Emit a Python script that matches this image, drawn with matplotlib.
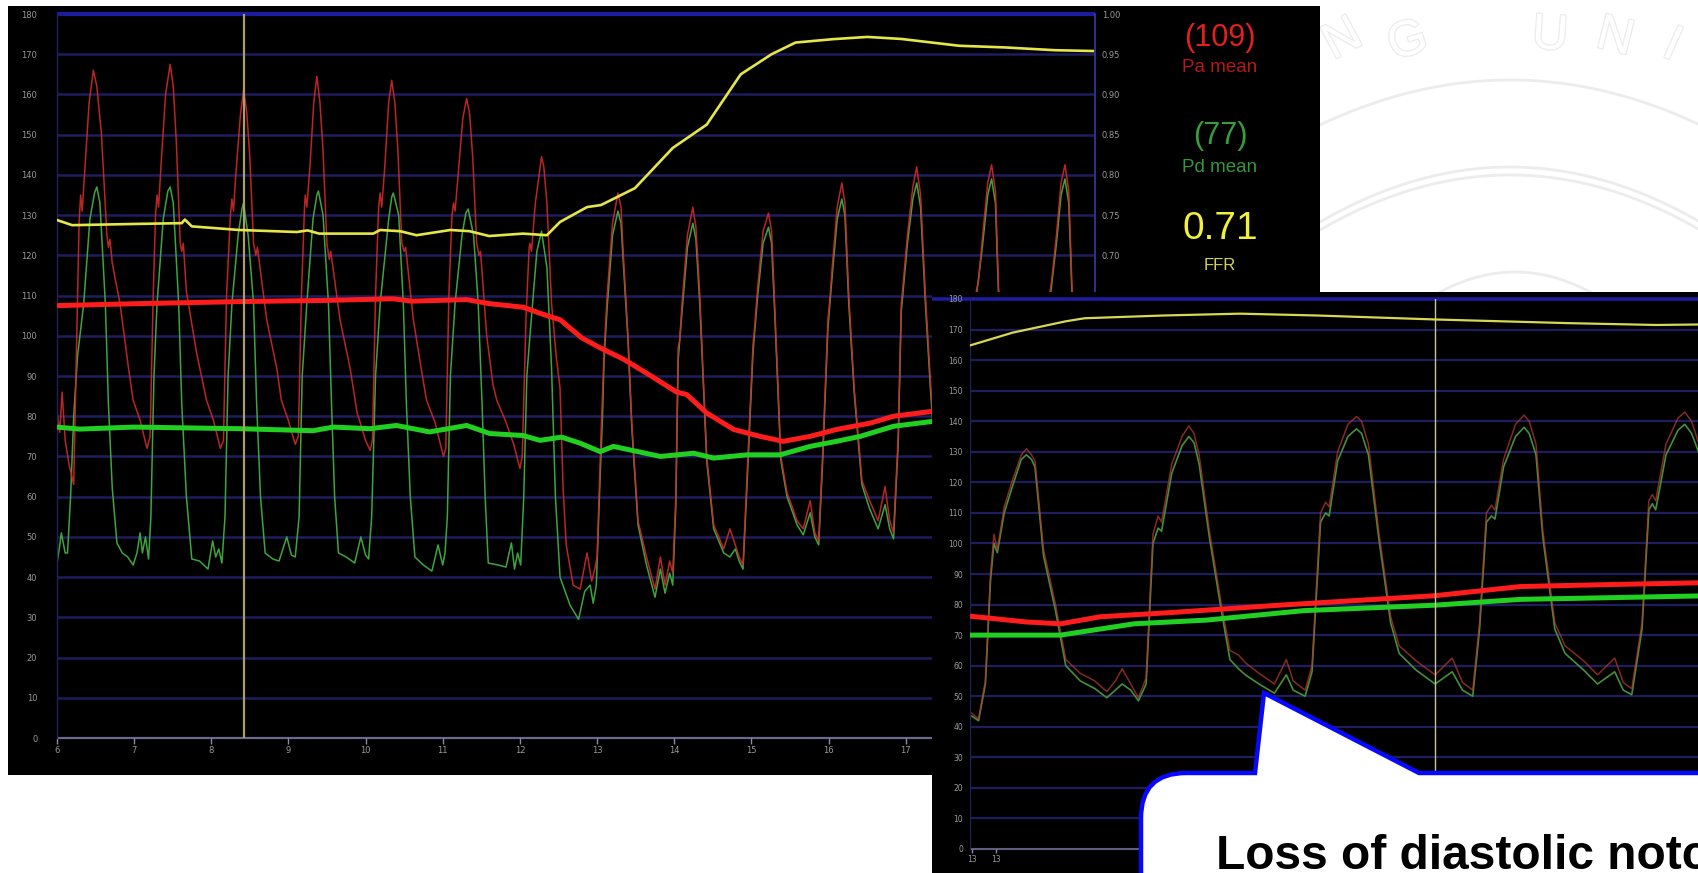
import numpy as np
import matplotlib
matplotlib.use("Agg")
import matplotlib.pyplot as plt
from matplotlib.patches import Rectangle, PathPatch
from matplotlib.path import Path
from matplotlib.lines import Line2D
from matplotlib.transforms import Affine2D
import matplotlib.patheffects as pe

# ---------------- data ----------------
# main tracing: time (s) vs pressure (mmHg)
pa_main = [(6.00, 82), (6.04, 76), (6.07, 86), (6.11, 74), (6.16, 68), (6.22, 63), (6.26, 100), (6.29, 128), (6.31, 135),
           (6.33, 131), (6.36, 140), (6.42, 158), (6.475, 166), (6.52, 162), (6.58, 150), (6.65, 125), (6.67, 122), (6.69, 124),
           (6.72, 118), (6.82, 108), (6.93, 92), (6.99, 84), (7.08, 79), (7.17, 72), (7.21, 75),
           (7.25, 110), (7.28, 130), (7.30, 135), (7.32, 132), (7.35, 142), (7.41, 160), (7.47, 167.5), (7.51, 162), (7.55, 148),
           (7.60, 123), (7.62, 121), (7.64, 123), (7.68, 111), (7.81, 96), (7.94, 84), (8.03, 79), (8.12, 72), (8.16, 74),
           (8.20, 110), (8.25, 130), (8.27, 134), (8.29, 131), (8.32, 140), (8.38, 155), (8.42, 161), (8.46, 156), (8.50, 145),
           (8.55, 123), (8.58, 120), (8.60, 122), (8.72, 104), (8.85, 92), (8.91, 84), (9.00, 79), (9.09, 73), (9.13, 75),
           (9.17, 110), (9.21, 132), (9.22, 135), (9.24, 132), (9.28, 142), (9.33, 158), (9.37, 164.5), (9.41, 158), (9.45, 146),
           (9.50, 123), (9.53, 119), (9.55, 121), (9.67, 104), (9.80, 92), (9.89, 81), (10.00, 74), (10.06, 71.5), (10.09, 74),
           (10.13, 110), (10.17, 132), (10.19, 135.5), (10.21, 132), (10.25, 142), (10.30, 158), (10.34, 163.5), (10.38, 158),
           (10.42, 146), (10.47, 123), (10.50, 121), (10.52, 122), (10.62, 104), (10.72, 92), (10.79, 84), (10.90, 78.5),
           (11.01, 70), (11.04, 72),
           (11.08, 110), (11.12, 130), (11.14, 133), (11.16, 131), (11.20, 140), (11.26, 154), (11.31, 159), (11.35, 155),
           (11.39, 144), (11.44, 123), (11.47, 120), (11.49, 121), (11.57, 100), (11.65, 88), (11.70, 84), (11.81, 79),
           (11.92, 73), (12.00, 67), (12.03, 70),
           (12.08, 105), (12.12, 122), (12.13, 123), (12.15, 121), (12.20, 133), (12.28, 144.5), (12.31, 142), (12.35, 133),
           (12.41, 108), (12.47, 95), (12.52, 87), (12.56, 62), (12.60, 48), (12.69, 38), (12.78, 37), (12.83, 42), (12.87, 46),
           (12.93, 39), (12.97, 42), (13.00, 45),
           (13.05, 75), (13.09, 96), (13.13, 110), (13.20, 128), (13.27, 135.5), (13.31, 132), (13.34, 120), (13.40, 100),
           (13.45, 78), (13.53, 54), (13.64, 45), (13.75, 37), (13.82, 45), (13.88, 38), (13.94, 44), (13.98, 41), (14.02, 60),
           (14.05, 97), (14.07, 99), (14.10, 108), (14.17, 125), (14.24, 132), (14.28, 127), (14.33, 110), (14.42, 70),
           (14.51, 53), (14.64, 47), (14.72, 52), (14.79, 48), (14.84, 45), (14.89, 43), (14.93, 60),
           (15.02, 98), (15.04, 102), (15.08, 112), (15.15, 126), (15.22, 130.5), (15.26, 126), (15.30, 108), (15.38, 70),
           (15.46, 61), (15.59, 54), (15.67, 52), (15.76, 59), (15.82, 51), (15.87, 49), (15.92, 70),
           (15.99, 104), (16.01, 108), (16.05, 118), (16.11, 132), (16.17, 138), (16.21, 133), (16.26, 110), (16.33, 87),
           (16.43, 64), (16.53, 59), (16.64, 54), (16.73, 62.5), (16.79, 54), (16.84, 51), (16.90, 75),
           (16.94, 108), (16.96, 112), (17.02, 125), (17.09, 137), (17.14, 142), (17.19, 135), (17.25, 111), (17.32, 88),
           (17.40, 66), (17.50, 60), (17.60, 56), (17.68, 62), (17.76, 53), (17.82, 70),
           (17.90, 110), (17.94, 113.5), (17.99, 124), (18.06, 138), (18.11, 142.5), (18.16, 136), (18.20, 112), (18.28, 88),
           (18.38, 66), (18.50, 60), (18.60, 56), (18.68, 62), (18.74, 53), (18.80, 70),
           (18.86, 110), (18.89, 114), (18.95, 125), (19.01, 138), (19.06, 142.5), (19.11, 136), (19.15, 113), (19.22, 90),
           (19.32, 68), (19.42, 62)]

pd_main = [(6.00, 43), (6.04, 48), (6.06, 51), (6.09, 48), (6.11, 46), (6.14, 46), (6.18, 60), (6.22, 80), (6.27, 95),
           (6.35, 108), (6.43, 129), (6.49, 135.5), (6.52, 137), (6.56, 133), (6.63, 108), (6.67, 83), (6.72, 62), (6.78, 48.5),
           (6.85, 46), (6.92, 45), (6.99, 43), (7.04, 46), (7.08, 51), (7.11, 46), (7.15, 50), (7.19, 44.5), (7.22, 55),
           (7.26, 90), (7.30, 108), (7.38, 129), (7.44, 136), (7.47, 137), (7.51, 133), (7.58, 108), (7.62, 83), (7.68, 60),
           (7.75, 44.5), (7.85, 44), (7.96, 42), (8.02, 49), (8.06, 45), (8.10, 47), (8.14, 43.5), (8.18, 55),
           (8.22, 90), (8.27, 108), (8.35, 125), (8.40, 131.5), (8.42, 133), (8.48, 125), (8.55, 108), (8.59, 83), (8.64, 60),
           (8.70, 46), (8.80, 44.5), (8.88, 44), (8.98, 50), (9.04, 45.5), (9.09, 45), (9.14, 55),
           (9.18, 90), (9.24, 108), (9.32, 129), (9.37, 135), (9.39, 136), (9.45, 130), (9.52, 108), (9.56, 83), (9.60, 60),
           (9.65, 46), (9.75, 45), (9.86, 43.5), (9.94, 50), (10.00, 45.5), (10.04, 44.5), (10.08, 55),
           (10.13, 90), (10.19, 108), (10.30, 129), (10.34, 134.5), (10.36, 135.5), (10.43, 130), (10.49, 108), (10.53, 83),
           (10.58, 60), (10.64, 45), (10.75, 43), (10.86, 41.5), (10.94, 48), (11.00, 43), (11.03, 46), (11.06, 55),
           (11.10, 90), (11.16, 108), (11.25, 125), (11.30, 130.5), (11.33, 131.5), (11.40, 125), (11.46, 108), (11.51, 83),
           (11.55, 60), (11.59, 43.5), (11.72, 43), (11.82, 42.5), (11.89, 48.5), (11.93, 42), (11.97, 46), (12.01, 43),
           (12.05, 60),
           (12.09, 90), (12.13, 100), (12.22, 121), (12.28, 126), (12.35, 117), (12.41, 92), (12.46, 60), (12.52, 40),
           (12.65, 33), (12.76, 29.5), (12.84, 36.5), (12.91, 38), (12.95, 33.5), (12.99, 38), (13.03, 60),
           (13.07, 80), (13.09, 94), (13.13, 107), (13.20, 125), (13.27, 131), (13.31, 128), (13.34, 118), (13.40, 99),
           (13.45, 77), (13.53, 53), (13.64, 43), (13.75, 35), (13.82, 42), (13.88, 36), (13.94, 41), (13.98, 38), (14.02, 58),
           (14.05, 94), (14.10, 106), (14.17, 122), (14.24, 128), (14.28, 124), (14.33, 108), (14.42, 69), (14.51, 52),
           (14.64, 46), (14.72, 45), (14.79, 47), (14.84, 44), (14.89, 42), (14.93, 58),
           (15.02, 96), (15.08, 110), (15.15, 123), (15.22, 127), (15.26, 123), (15.30, 106), (15.38, 69), (15.46, 60),
           (15.59, 53), (15.67, 50.5), (15.76, 56), (15.82, 50), (15.87, 48), (15.92, 68),
           (15.99, 102), (16.05, 116), (16.11, 129), (16.17, 134), (16.21, 130), (16.26, 108), (16.33, 86), (16.43, 63),
           (16.53, 57), (16.64, 52), (16.73, 58), (16.79, 52), (16.84, 49.5), (16.90, 73),
           (16.94, 106), (17.02, 123), (17.09, 134), (17.14, 138), (17.19, 132), (17.25, 109), (17.32, 86), (17.40, 64),
           (17.50, 58), (17.60, 54), (17.68, 59), (17.76, 51), (17.82, 68),
           (17.90, 108), (17.99, 122), (18.06, 135), (18.11, 139), (18.16, 133), (18.20, 110), (18.28, 86), (18.38, 64),
           (18.50, 58), (18.60, 54), (18.68, 59), (18.74, 51), (18.80, 68),
           (18.86, 108), (18.95, 123), (19.01, 135), (19.06, 139), (19.11, 133), (19.15, 111), (19.22, 88), (19.32, 66),
           (19.42, 60)]

pa_mean_main = [(6.0, 107.5), (7.08, 108), (8.37, 108.5), (9.5, 108.8), (10.36, 109.2), (10.6, 108.6), (11.31, 109),
                (11.6, 108), (12.04, 107.1), (12.35, 105), (12.52, 104), (12.8, 99.5), (13.04, 97), (13.34, 94.2),
                (13.7, 90), (14.03, 86), (14.16, 85.4), (14.42, 80.8), (14.77, 76.7), (15.11, 75), (15.41, 73.75),
                (15.76, 75), (16.10, 76.7), (16.54, 78.3), (16.84, 80), (17.36, 81.25)]
pd_mean_main = [(6.0, 77.3), (6.3, 76.8), (7.0, 77.3), (8.37, 76.9), (9.32, 76.4), (9.58, 77.3), (10.06, 76.9),
                (10.40, 77.7), (10.83, 76.1), (11.31, 77.7), (11.61, 75.7), (12.04, 75.2), (12.26, 74), (12.54, 74.8),
                (12.78, 73.3), (13.04, 71.2), (13.21, 72.5), (13.82, 70), (14.25, 70.8), (14.51, 69.6), (14.94, 70.4),
                (15.37, 70.4), (15.76, 72.5), (16.10, 73.75), (16.41, 75), (16.84, 77.5), (17.36, 78.75)]
ffr_main = [(6.0, 0.744), (6.2, 0.7375), (7.0, 0.739), (7.62, 0.740), (7.66, 0.7445), (7.75, 0.736), (8.37, 0.7315),
            (9.11, 0.729), (9.25, 0.731), (9.40, 0.727), (10.1, 0.727), (10.19, 0.7315), (10.45, 0.730), (10.66, 0.725),
            (11.1, 0.7315), (11.35, 0.730), (11.6, 0.724), (12.04, 0.727), (12.35, 0.725), (12.52, 0.7415), (12.87, 0.760),
            (13.05, 0.7625), (13.49, 0.7835), (13.98, 0.8335), (14.42, 0.8625), (14.86, 0.925), (15.26, 0.950),
            (15.57, 0.9645), (16.06, 0.96875), (16.5, 0.9715), (16.94, 0.969), (17.69, 0.9605), (18.27, 0.9585),
            (18.93, 0.955), (19.42, 0.954)]
cursor_main = 8.43

# main axis labels
x_ticks_main = [6, 7, 8, 9, 10, 11, 12, 13, 14, 15, 16, 17, 18, 19]
y_ticks = list(range(0, 181, 10))
ffr_ticks = [0.65, 0.70, 0.75, 0.80, 0.85, 0.90, 0.95, 1.00]

# readout panel
pa_mean_value = "(109)"
pd_mean_value = "(77)"
ffr_value = "0.71"

# inset (zoomed) tracing: time (s from inset axis) vs pressure
pa_inset = [(0.01, 44.5), (0.05, 42.5), (0.09, 55), (0.12, 90), (0.14, 103), (0.16, 98), (0.20, 112), (0.25, 121),
            (0.30, 129), (0.33, 131), (0.36, 129), (0.38, 127), (0.43, 98), (0.50, 80), (0.56, 62), (0.645, 57.5),
            (0.73, 55), (0.80, 51.5), (0.85, 55), (0.89, 59), (0.94, 54), (0.985, 49.5), (1.03, 56), (1.07, 103),
            (1.10, 109), (1.12, 107), (1.18, 126), (1.24, 135), (1.28, 138.5), (1.31, 136), (1.34, 129), (1.40, 104),
            (1.47, 80), (1.52, 65), (1.57, 63.5), (1.61, 61), (1.69, 57.5), (1.78, 54), (1.85, 62), (1.89, 55), (1.96, 52),
            (2.00, 60), (2.05, 110), (2.08, 113.5), (2.10, 112), (2.15, 130), (2.21, 139), (2.26, 141.5), (2.29, 140),
            (2.33, 132.5), (2.39, 104), (2.46, 76), (2.51, 66.5), (2.61, 61.5), (2.72, 57), (2.82, 62.5), (2.88, 54.5),
            (2.94, 52), (2.98, 74), (3.02, 110), (3.05, 112.5), (3.07, 111), (3.12, 127.5), (3.19, 139), (3.24, 142),
            (3.27, 140), (3.31, 132.5), (3.35, 104), (3.42, 74), (3.48, 66.5), (3.59, 61.5), (3.67, 57), (3.77, 62.5),
            (3.82, 54.5), (3.87, 52.5), (3.93, 74), (3.97, 114), (3.99, 116), (4.01, 114), (4.07, 132.5), (4.14, 141),
            (4.18, 143), (4.22, 140), (4.26, 133)]
pd_inset = [(0.01, 43.5), (0.05, 42), (0.09, 54), (0.12, 88), (0.14, 100), (0.16, 97), (0.20, 110), (0.25, 119),
            (0.30, 127.5), (0.33, 129), (0.36, 127.5), (0.38, 125), (0.43, 96), (0.50, 78), (0.56, 60), (0.645, 55),
            (0.73, 52.5), (0.80, 49.5), (0.85, 52), (0.89, 54), (0.94, 52), (0.985, 48.5), (1.03, 54), (1.07, 100),
            (1.10, 105), (1.12, 104), (1.18, 123), (1.24, 132), (1.28, 135), (1.31, 133), (1.34, 126), (1.40, 102),
            (1.47, 78), (1.52, 62), (1.57, 59), (1.61, 57), (1.69, 54), (1.78, 51), (1.85, 57), (1.89, 52), (1.96, 50),
            (2.00, 58), (2.05, 107), (2.08, 110), (2.10, 109), (2.15, 127), (2.21, 135), (2.26, 137.5), (2.29, 136),
            (2.33, 129), (2.39, 102), (2.46, 74), (2.51, 64), (2.61, 58.5), (2.72, 54), (2.82, 58), (2.88, 52),
            (2.94, 50), (2.98, 72), (3.02, 107), (3.05, 109), (3.07, 108), (3.12, 125), (3.19, 135), (3.24, 138),
            (3.27, 136), (3.31, 129), (3.35, 102), (3.42, 72), (3.48, 64), (3.59, 58.5), (3.67, 54), (3.77, 58),
            (3.82, 52), (3.87, 50.5), (3.93, 72), (3.97, 111), (3.99, 113), (4.01, 111), (4.07, 129), (4.14, 137),
            (4.18, 139), (4.22, 136), (4.26, 130)]
pa_mean_inset = [(0, 76.2), (0.33, 74.3), (0.53, 73.7), (0.76, 76), (1.18, 77.4), (1.81, 79.8), (2.72, 82.9),
                 (3.22, 85.9), (3.79, 86.6), (4.33, 87.2)]
pd_mean_inset = [(0, 70), (0.53, 70), (0.96, 73.7), (1.38, 74.9), (1.95, 78), (2.72, 79.8), (3.22, 81.7),
                 (3.79, 82.3), (4.33, 82.9)]
ffr_inset = [(0, 0.924), (0.25, 0.945), (0.56, 0.9635), (0.67, 0.9685), (1.13, 0.973), (1.58, 0.976), (2.03, 0.973),
             (2.72, 0.9665), (3.5, 0.9605), (4.01, 0.9575), (4.33, 0.9585)]
cursor_inset = 2.72
x_ticks_inset = [0.01, 0.15]
x_ticklabels_inset = ["13", "13"]

callout_text = "Loss of diastolic notch"

# ---------------- figure ----------------
W, H = 1699, 873
fig = plt.figure(figsize=(W / 100, H / 100), dpi=100, facecolor="white")
PX = Affine2D().scale(1 / W, -1 / H).translate(0, 1) + fig.transFigure


def box(x0, y0, x1, y1):
    return [x0 / W, 1 - y1 / H, (x1 - x0) / W, (y1 - y0) / H]


def xy(pairs):
    a = np.array(pairs, dtype=float)
    return a[:, 0], a[:, 1]


GRID = "#1d1d60"
TOPLINE = "#1c1ca0"
LBL = "#9a9a9a"
RED_THIN = "#cf2a2a"
GRN_THIN = "#3ea53e"
RED_MEAN = "#ff1c1c"
GRN_MEAN = "#22d022"
YEL = "#e6e64a"
WM = "#ececec"

# ---- faint watermark in the white area ----
for ch, x, y, rot in [("N", 1343, 40, 28), ("G", 1408, 42, 18), ("U", 1550, 36, -4), ("N", 1615, 38, -14),
                      ("I", 1672, 46, -24)]:
    fig.text(x / W, 1 - y / H, ch, fontsize=36, color="white", rotation=rot, ha="center", va="center",
             family="Liberation Sans", zorder=0.05,
             path_effects=[pe.withStroke(linewidth=1.8, foreground=WM)])
xs = np.linspace(1320, 1699, 120)
fig.add_artist(Line2D(xs, 80 + ((xs - 1510) / 190) ** 2 * 45, transform=PX, color=WM, lw=2.0, zorder=0.05))
for off in (0, 8):
    fig.add_artist(Line2D(xs, 167 + off + ((xs - 1510) / 190) ** 2 * 55, transform=PX, color=WM, lw=2.0,
                          zorder=0.05))
xd = np.linspace(1440, 1590, 60)
fig.add_artist(Line2D(xd, 272 + ((xd - 1515) / 75) ** 2 * 20, transform=PX, color=WM, lw=2.0, zorder=0.05))

# ---- main black panel ----
fig.add_artist(Rectangle((8, 6), 1312, 769, transform=PX, facecolor="black", edgecolor="none", zorder=0.1))

# ---- main chart ----
XL, XR, YT, YB = 56.7, 1095, 14, 738
ax = fig.add_axes(box(XL, YT, XR, YB), zorder=1)
ax.set_facecolor("none")
xmax_main = 6 + (XR - XL) / 77.2
ax.set_xlim(6, xmax_main)
ax.set_ylim(0, 180)
ax.hlines(y_ticks[1:-1], 6, xmax_main, colors=GRID, lw=1.8, zorder=0.5)
ax.hlines([180], 6, xmax_main, colors=TOPLINE, lw=3, zorder=0.5, clip_on=False)
ax.hlines([0], 6, xmax_main, colors="#6a6a8e", lw=1.6, zorder=0.6, clip_on=False)
for s in ["top", "right", "bottom"]:
    ax.spines[s].set_visible(False)
ax.spines["left"].set_color("#22225a")
ax.spines["left"].set_linewidth(1.0)
ax.set_xticks(x_ticks_main)
ax.set_xticklabels([str(v) for v in x_ticks_main])
ax.set_yticks(y_ticks)
ax.set_yticklabels([str(v) for v in y_ticks])
ax.tick_params(axis="x", direction="out", length=4, width=1, color="#8a8aa8", labelcolor=LBL, labelsize=6, pad=2)
ax.tick_params(axis="y", length=0, labelcolor=LBL, labelsize=6, pad=14)

t, p = xy(pd_main)
ax.plot(t, p, color=GRN_THIN, lw=1.1, zorder=2)
t, p = xy(pa_main)
ax.plot(t, p, color=RED_THIN, lw=1.1, alpha=0.9, zorder=2.1)
t, p = xy(pd_mean_main)
ax.plot(t, p, color=GRN_MEAN, lw=3.6, solid_capstyle="butt", zorder=3)
t, p = xy(pa_mean_main)
ax.plot(t, p, color=RED_MEAN, lw=3.6, solid_capstyle="butt", zorder=3.1)
ax.axvline(cursor_main, ymin=0, ymax=1, color="#ab9c6c", lw=1.6, zorder=4)

ax2 = ax.twinx()
ax2.set_zorder(1.1)
ax2.patch.set_visible(False)
ax2.set_ylim(0.10, 1.00)
ax2.set_yticks(ffr_ticks)
ax2.set_yticklabels([f"{v:.2f}" for v in ffr_ticks])
ax2.tick_params(axis="y", length=0, labelcolor=LBL, labelsize=6, pad=5)
for s in ["top", "left", "bottom"]:
    ax2.spines[s].set_visible(False)
ax2.spines["right"].set_color("#3a3aa8")
ax2.spines["right"].set_linewidth(1.2)
t, f = xy(ffr_main)
ax2.plot(t, f, color=YEL, lw=1.9, zorder=5)

# ---- readout column ----
CX = 1220
fig.text(CX / W, 1 - 38 / H, pa_mean_value, color="#e2201e", fontsize=22, ha="center", va="center",
         family="Liberation Sans", zorder=1.5)
fig.text(CX / W, 1 - 67 / H, "Pa mean", color="#b51818", fontsize=13.5, ha="center", va="center",
         family="Liberation Sans", zorder=1.5)
fig.text(CX / W, 1 - 136 / H, pd_mean_value, color="#35a03a", fontsize=22, ha="center", va="center",
         family="Liberation Sans", zorder=1.5)
fig.text(CX / W, 1 - 168 / H, "Pd mean", color="#34983a", fontsize=13.5, ha="center", va="center",
         family="Liberation Sans", zorder=1.5)
fig.text(CX / W, 1 - 229 / H, ffr_value, color="#f0f03a", fontsize=28, ha="center", va="center",
         family="Liberation Sans", zorder=1.5)
fig.text(CX / W, 1 - 265 / H, "FFR", color="#d2d262", fontsize=12, ha="center", va="center",
         family="Liberation Sans", zorder=1.5)

# ---- inset panel ----
fig.add_artist(Rectangle((932, 292), 800, 600, transform=PX, facecolor="black", edgecolor="none", zorder=2))
IL, IR, IT, IB = 970, 1710, 299, 849
axi = fig.add_axes(box(IL, IT, IR, IB), zorder=3)
axi.set_facecolor("none")
xmax_in = (IR - IL) / 171.0
axi.set_xlim(0, xmax_in)
axi.set_ylim(0, 180)
axi.hlines(y_ticks[1:-1], 0, xmax_in, colors=GRID, lw=1.6, zorder=0.5)
axi.hlines([180], -0.22, xmax_in, colors=TOPLINE, lw=2.6, zorder=0.5, clip_on=False)
axi.hlines([0], 0, xmax_in, colors="#5e5e80", lw=1.5, zorder=0.6, clip_on=False)
for s in ["top", "right", "bottom"]:
    axi.spines[s].set_visible(False)
axi.spines["left"].set_color("#22225a")
axi.set_yticks(y_ticks)
axi.set_yticklabels([str(v) for v in y_ticks])
axi.set_xticks(x_ticks_inset)
axi.set_xticklabels(x_ticklabels_inset)
axi.tick_params(axis="x", direction="out", length=3, width=1, color="#8a8aa8", labelcolor=LBL, labelsize=5.5, pad=1.5)
axi.tick_params(axis="y", length=0, labelcolor=LBL, labelsize=5.5, pad=5)

t, p = xy(pd_inset)
axi.plot(t, p, color="#45903a", lw=1.2, zorder=2)
t, p = xy(pa_inset)
axi.plot(t, p, color="#b03a2a", lw=1.1, alpha=0.75, zorder=2.1)
t, p = xy(pd_mean_inset)
axi.plot(t, p, color=GRN_MEAN, lw=3.6, solid_capstyle="butt", zorder=3)
t, p = xy(pa_mean_inset)
axi.plot(t, p, color=RED_MEAN, lw=3.6, solid_capstyle="butt", zorder=3.1)
axi.axvline(cursor_inset, color="#c9c2a0", lw=1.0, zorder=4)

axi2 = axi.twinx()
axi2.set_zorder(3.1)
axi2.patch.set_visible(False)
axi2.set_ylim(0.10, 1.00)
axi2.set_yticks([])
for s in axi2.spines.values():
    s.set_visible(False)
t, f = xy(ffr_inset)
axi2.plot(t, f, color="#d8d850", lw=1.6, zorder=5)

# ---- callout ----
r = 45
x0, y0 = 1141, 773
verts = [(x0, 900), (x0, y0 + r), (x0, y0), (x0 + r, y0), (1255, y0), (1264, 693), (1419, y0), (1720, y0),
         (1720, 900), (x0, 900)]
codes = [Path.MOVETO, Path.LINETO, Path.CURVE3, Path.CURVE3, Path.LINETO, Path.LINETO, Path.LINETO, Path.LINETO,
         Path.LINETO, Path.CLOSEPOLY]
fig.add_artist(PathPatch(Path(verts, codes), transform=PX, facecolor="white", edgecolor="#0808ff", lw=3.2,
                         joinstyle="miter", zorder=4))
fig.text(1216 / W, 1 - 869 / H, callout_text, fontsize=34.5, fontweight="bold", family="Liberation Sans",
         color="black", ha="left", va="baseline", zorder=5)

fig.savefig("out.png", dpi=100, facecolor="white")
